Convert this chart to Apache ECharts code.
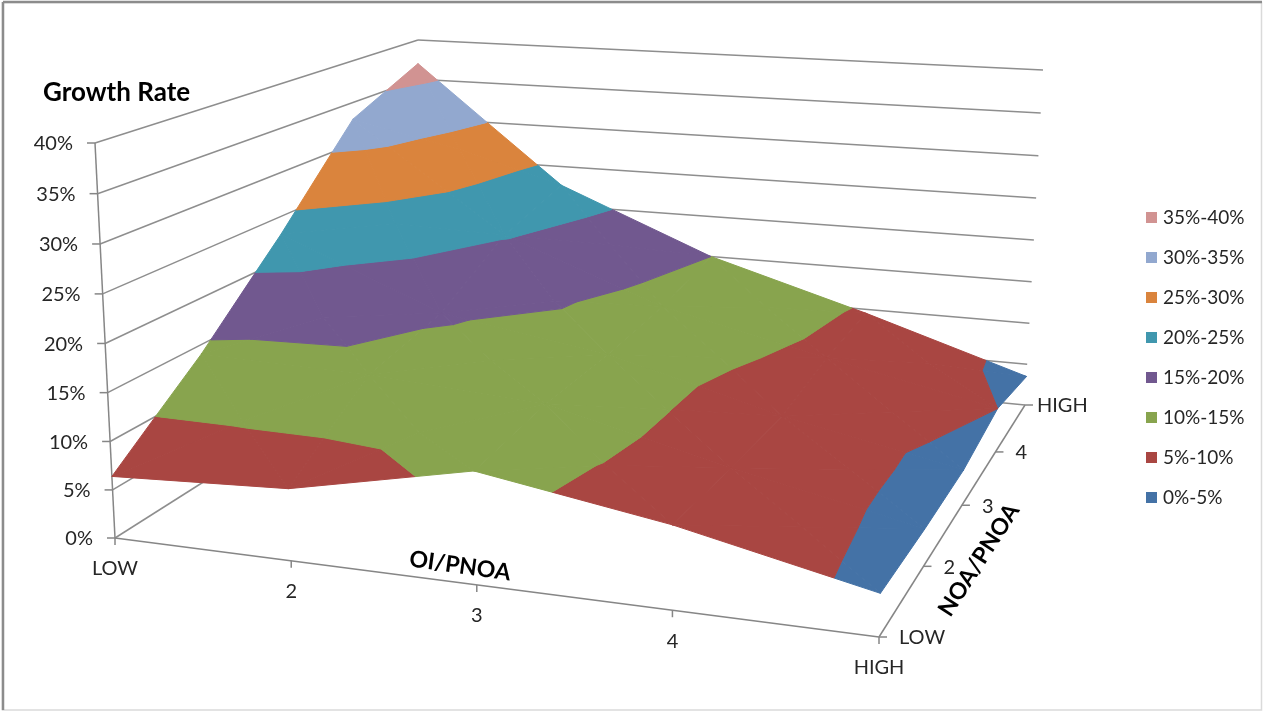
<!DOCTYPE html>
<html>
<head>
<meta charset="utf-8">
<style>html,body{margin:0;padding:0;background:#fff}#c{width:1264px;height:712px}</style>
<script src="https://cdn.jsdelivr.net/npm/echarts@6/dist/echarts.min.js"></script>
</head>
<body>
<div id="c"></div>
<script>
// ---- chart data ----
const oiLabels = ['LOW', '2', '3', '4', 'HIGH'];
const noaLabels = ['LOW', '2', '3', '4', 'HIGH'];
const rateTicks = [0, 5, 10, 15, 20, 25, 30, 35, 40];
const bandNames = ['0%-5%', '5%-10%', '10%-15%', '15%-20%', '20%-25%', '25%-30%', '30%-35%', '35%-40%'];
const bandColors = ['#4472A6', '#A94642', '#88A44E', '#71588F', '#4097AE', '#DA843D', '#92A8CF', '#D19392'];
// growth rate (%) at each OI/PNOA column, one list per NOA/PNOA row
const growthNoaLow  = [6.4, 7.3, 11.2, 8.2, 4.1];
const growthNoa2    = [14.0, 13.6, 12.4, 7.8, 3.8];
const growthNoa3    = [23.0, 15.5, 12.6, 7.6, 3.8];
const growthNoa4    = [33.0, 20.3, 13.3, 9.0, 5.0];
const growthNoaHigh = [37.0, 22.6, 15.0, 9.5, 3.5];
const growth = [growthNoaLow, growthNoa2, growthNoa3, growthNoa4, growthNoaHigh];

// ---- 3D view of the box: corners of its floor and ceiling ----
function squareToQuad(q) {
  const [[x0,y0],[x1,y1],[x2,y2],[x3,y3]] = q;
  const dx1=x1-x2, dx2=x3-x2, sx=x0-x1+x2-x3, dy1=y1-y2, dy2=y3-y2, sy=y0-y1+y2-y3;
  const d=dx1*dy2-dx2*dy1, g=(sx*dy2-dx2*sy)/d, h=(dx1*sy-sx*dy1)/d;
  const a=x1-x0+g*x1, b=x3-x0+h*x3, c=x0, e=y1-y0+g*y1, f=y3-y0+h*y3, k=y0;
  return (u,v)=>{const w=g*u+h*v+1;return [(a*u+b*v+c)/w,(e*u+f*v+k)/w];};
}
const floorMap = squareToQuad([[115,538],[879,637],[1025,405],[418,346]]);
const ceilMap  = squareToQuad([[95,143],[893,199],[1043,70],[418,40]]);
const RMAX = rateTicks[rateTicks.length-1];
function project(i,j,z){
  const u=i/(oiLabels.length-1), v=j/(noaLabels.length-1), r=z/RMAX;
  const t=r-0.03*r*(1-r); // slight perspective of the height axis
  const a=floorMap(u,v), b=ceilMap(u,v);
  return [a[0]+(b[0]-a[0])*t, a[1]+(b[1]-a[1])*t];
}

// ---- surface cut into bands ----
function clip(poly,level,keepAbove){
  const out=[];
  for(let n=0;n<poly.length;n++){
    const p=poly[n], q=poly[(n+1)%poly.length];
    const pin=keepAbove?p[2]>=level:p[2]<=level, qin=keepAbove?q[2]>=level:q[2]<=level;
    if(pin) out.push(p);
    if(pin!==qin){const t=(level-p[2])/(q[2]-p[2]);out.push([p[0]+(q[0]-p[0])*t,p[1]+(q[1]-p[1])*t,level]);}
  }
  return out;
}
const triangles=[];
for(let j=growth.length-2;j>=0;j--)for(let i=0;i<oiLabels.length-1;i++){
  const a=[i,j,growth[j][i]],b=[i+1,j,growth[j][i+1]],c=[i+1,j+1,growth[j+1][i+1]],d=[i,j+1,growth[j+1][i]];
  const m=[i+.5,j+.5,(a[2]+b[2]+c[2]+d[2])/4];
  triangles.push([d,c,m],[c,b,m],[a,d,m],[b,a,m]);
}
function bandPolys(b){
  const lo=rateTicks[b],hi=rateTicks[b+1],res=[];
  triangles.forEach(t=>{
    let p=clip(t,lo,true); if(p.length) p=clip(p,hi,false);
    if(p.length>2) res.push(p);
  });
  return res;
}
const GRID='#8E8E8E', AXIS='#868686', TXT='#262626', FONT='Lato, "Open Sans", sans-serif';
function line(api,p,q,color){
  const a=api.coord(p),b=api.coord(q);
  return {type:'line',shape:{x1:a[0],y1:a[1],x2:b[0],y2:b[1]},style:{stroke:color,lineWidth:1.5}};
}
function label(api,p,text,align,size,weight){
  const a=api.coord(p);
  return {type:'text',x:a[0],y:a[1],style:{text:text,align:align,verticalAlign:'middle',fill:TXT,font:(weight||'normal')+' '+size+'px '+FONT}};
}
function renderBox(params,api){
  const ch=[], nI=oiLabels.length-1, nJ=noaLabels.length-1;
  rateTicks.forEach(z=>{
    ch.push(line(api,project(0,0,z),project(0,nJ,z),GRID));
    ch.push(line(api,project(0,nJ,z),project(nI,nJ,z),GRID));
    const p=project(0,0,z);
    ch.push(line(api,p,[p[0]-8,p[1]],AXIS));
    ch.push(label(api,[p[0]-22,p[1]+1],z+'%','right',20));
  });
  ch.push(line(api,project(0,0,0),project(0,0,RMAX),AXIS));
  ch.push(line(api,project(0,0,0),project(nI,0,0),AXIS));
  ch.push(line(api,project(nI,0,0),project(nI,nJ,0),AXIS));
  oiLabels.forEach((t,i)=>{
    const p=project(i,0,0);
    ch.push(line(api,p,[p[0],p[1]+7],AXIS));
    ch.push(label(api,[p[0],p[1]+31],t,'center',20));
  });
  noaLabels.forEach((t,j)=>{
    const p=project(nI,j,0);
    ch.push(line(api,p,[p[0]+8,p[1]],AXIS));
    ch.push(label(api,[p[0]+(j===nJ?12:20),p[1]+1],t,'left',20));
  });
  return {type:'group',children:ch};
}
function renderBand(b){
  const polys=bandPolys(b);
  return function(params,api){
    return {type:'group',children:polys.map(poly=>({
      type:'polygon',
      shape:{points:poly.map(p=>api.coord(project(p[0],p[1],p[2])))},
      style:{fill:bandColors[b],stroke:bandColors[b],lineWidth:1,lineJoin:'round'}
    }))};
  };
}
const series=[{type:'custom',name:'box',silent:true,clip:false,data:[[0,0]],z:1,renderItem:renderBox}];
bandNames.forEach((n,b)=>series.push({
  type:'custom',name:n,silent:true,clip:false,data:[[0,0]],z:2+b,
  itemStyle:{color:bandColors[b]},renderItem:renderBand(b)
}));
const deg=Math.PI/180;
const chart=echarts.init(document.getElementById('c'));
chart.setOption({
  animation:false,backgroundColor:'#fff',
  grid:{left:0,right:0,top:0,bottom:0},
  xAxis:{type:'value',min:0,max:1264,show:false},
  yAxis:{type:'value',min:0,max:712,inverse:true,show:false},
  legend:{
    orient:'vertical',left:1141,top:202,itemWidth:11,itemHeight:11,itemGap:19,itemStyle:{borderWidth:0},
    icon:'rect',selectedMode:false,
    data:bandNames.slice().reverse(),
    textStyle:{color:TXT,fontSize:19,fontFamily:FONT,lineHeight:21,padding:[0,0,0,1]}
  },
  series:series,
  graphic:[
    {type:'rect',silent:true,z:0,shape:{x:2.5,y:2.5,width:1259,height:707.5},style:{fill:'none',stroke:'#DADADA',lineWidth:1.5}},
    {type:'line',silent:true,z:1,shape:{x1:3,y1:2,x2:1262,y2:2},style:{stroke:'#8C8C8C',lineWidth:2.5}},
    {type:'line',silent:true,z:1,shape:{x1:3,y1:2,x2:3,y2:710},style:{stroke:'#8C8C8C',lineWidth:2.5}},
    {type:'text',silent:true,x:43,y:93,style:{text:'Growth Rate',fill:'#000',font:'bold 26px '+FONT,align:'left',verticalAlign:'middle'}},
    {type:'text',silent:true,x:460,y:566,rotation:-8*deg,style:{text:'OI/PNOA',fill:'#000',font:'bold 23px '+FONT,align:'center',verticalAlign:'middle'}},
    {type:'text',silent:true,x:979,y:560,rotation:57*deg,style:{text:'NOA/PNOA',fill:'#000',font:'bold 23px '+FONT,align:'center',verticalAlign:'middle'}}
  ]
});
</script>
</body>
</html>
